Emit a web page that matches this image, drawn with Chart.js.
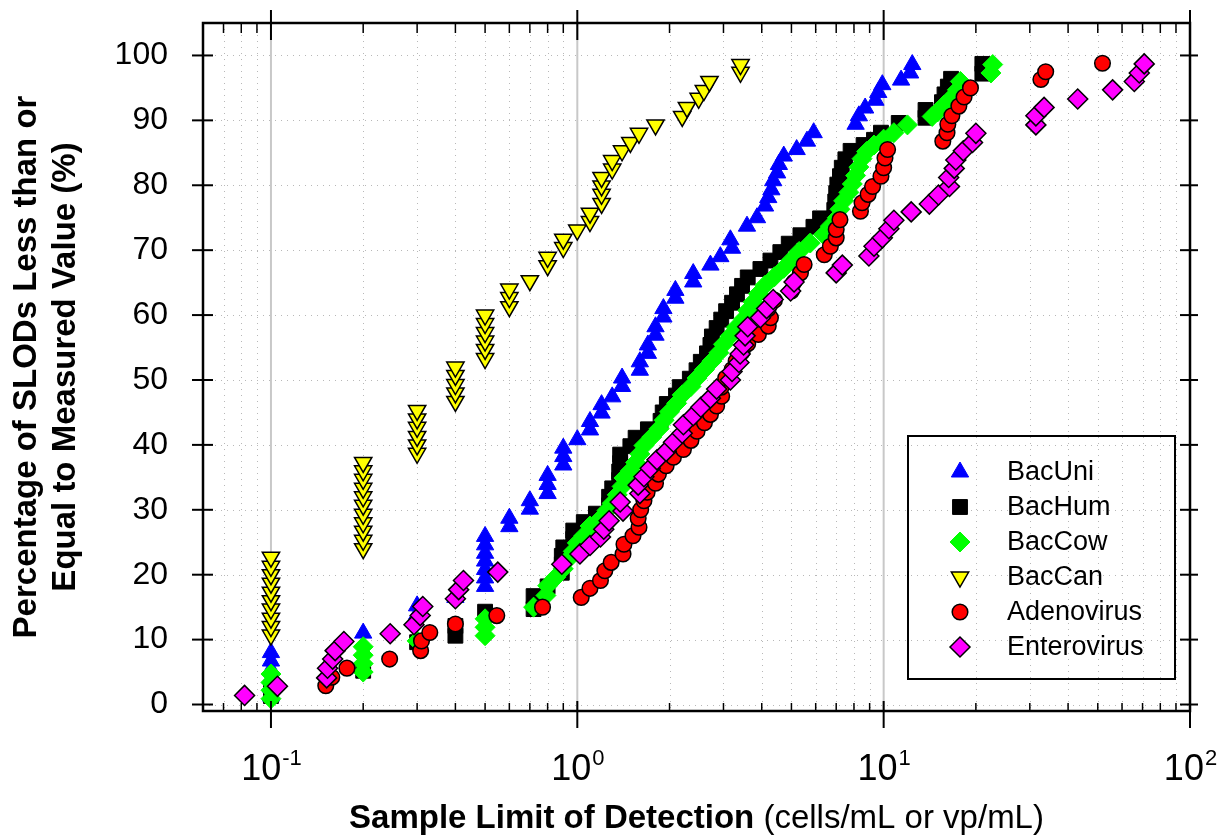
<!DOCTYPE html>
<html>
<head>
<meta charset="utf-8">
<script src="https://cdn.jsdelivr.net/npm/chart.js@4.4.1/dist/chart.umd.min.js"></script>
<style>
  html, body { margin: 0; padding: 0; background: #fff; }
  #wrap { width: 1225px; height: 839px; }
</style>
</head>
<body>
<div id="wrap"><canvas id="slodChart" width="1225" height="839"></canvas></div>
<script>
// values: [SLOD, cumulative %]
const bacUni = [
  [0.1,1.3],[0.1,2.7],[0.1,4.0],[0.1,5.4],[0.1,6.7],[0.1,8.0],
  [0.2,11.0],[0.3,13.9],[0.3,15.2],[0.4,16.5],
  [0.5,18.2],[0.5,19.5],[0.5,20.8],[0.5,22.1],[0.5,23.3],[0.5,24.6],[0.5,25.9],
  [0.6,27.4],[0.6,28.7],[0.7,30.1],[0.7,31.4],
  [0.8,32.5],[0.8,33.9],[0.8,35.3],[0.9,36.9],[0.9,38.2],[0.9,39.5],
  [1.0,40.8],[1.1,42.3],[1.1,43.6],[1.2,44.9],[1.2,46.2],[1.3,47.4],
  [1.4,49.0],[1.4,50.3],[1.6,51.5],[1.6,52.8],[1.7,54.1],[1.7,55.4],
  [1.8,56.9],[1.8,58.2],[1.91,59.7],[1.91,61.0],[2.09,62.6],[2.09,63.8],
  [2.39,65.1],[2.39,66.4],[2.72,67.7],[2.93,69.0],[3.2,70.3],[3.16,71.6],
  [3.58,73.7],[3.86,75.0],[4.1,76.8],[4.2,78.1],[4.3,79.3],[4.36,80.7],
  [4.49,81.9],[4.55,83.2],[4.72,84.5],[5.2,85.5],[5.62,86.8],[5.91,88.1],
  [8.1,89.4],[8.3,90.7],[8.7,91.9],[9.4,93.1],[9.6,94.3],[9.9,95.5],
  [11.4,96.2],[12.2,97.3],[12.4,98.6]
];

const bacHum = [
  [0.1,1.3],[0.1,2.6],[0.2,5.2],[0.3,9.6],[0.4,10.6],[0.4,12.1],[0.5,14.3],
  [0.72,14.7],[0.72,16.7],[0.8,18.2],[0.89,20.3],[0.89,21.6],[0.89,22.9],
  [0.9,24.2],[0.97,25.5],[0.97,26.8],[1.05,28.1],[1.15,29.4],[1.27,30.7],
  [1.27,32.0],[1.3,33.3],[1.37,34.6],[1.37,35.9],[1.38,37.2],[1.38,38.5],
  [1.49,39.8],[1.55,41.1],[1.7,42.4],[1.87,43.7],[1.9,45.0],[1.96,46.3],
  [2.1,47.6],[2.16,48.9],[2.33,50.2],[2.45,51.5],[2.53,52.8],[2.65,54.1],
  [2.72,55.4],[2.75,56.7],[2.85,58.0],[2.95,59.3],[3.06,60.6],[3.2,61.9],
  [3.32,63.2],[3.45,64.5],[3.6,65.8],[3.96,67.1],[4.27,68.4],[4.6,69.7],
  [4.9,71.0],[5.35,72.3],[5.9,73.6],[6.2,74.9],[6.9,76.2],[6.95,77.5],
  [7.0,78.8],[7.06,80.1],[7.2,81.4],[7.3,82.7],[7.5,84.0],[7.8,85.3],
  [8.6,86.2],[9.3,87.0],[9.8,88.1],[11.2,89.6],[13.7,90.4],[13.7,91.6],
  [15.5,92.8],[15.8,94.0],[16.2,95.2],[16.6,96.4],[21.0,97.2],[21.0,98.7]
];

const bacCow = [
  [0.1,0.9],[0.1,2.2],[0.1,3.4],[0.1,4.7],[0.2,5.0],[0.2,6.3],[0.2,7.6],[0.2,8.9],
  [0.3,9.8],[0.5,10.6],[0.5,11.9],[0.5,13.2],[0.72,15.0],[0.79,16.8],[0.8,18.3],
  [0.85,19.6],[0.9,20.9],[0.93,22.3],[0.97,23.6],[1.0,24.9],[1.05,26.0],[1.1,27.5],
  [1.2,28.8],[1.25,29.9],[1.3,31.0],[1.35,32.3],[1.4,33.6],[1.42,34.9],[1.49,36.0],
  [1.55,37.3],[1.6,38.6],[1.65,39.9],[1.75,41.2],[1.85,42.5],[1.92,43.8],[2.0,45.1],
  [2.11,46.4],[2.2,47.7],[2.35,49.0],[2.46,50.3],[2.6,51.6],[2.75,52.9],[2.9,54.2],
  [3.0,55.5],[3.16,56.8],[3.3,58.1],[3.49,59.4],[3.6,60.7],[3.75,62.0],[3.9,63.3],
  [4.1,64.6],[4.4,65.9],[4.72,67.2],[5.0,68.5],[5.3,69.8],[5.76,71.1],[6.37,72.4],
  [6.7,73.7],[7.06,75.0],[7.2,76.3],[7.4,77.6],[7.7,78.9],[7.9,80.2],[8.1,81.5],
  [8.3,82.8],[8.5,84.1],[8.8,85.2],[9.3,86.2],[10.0,87.1],[10.8,88.1],[11.96,89.3],
  [14.4,90.6],[15.0,91.3],[15.7,92.3],[16.6,93.4],[17.4,94.7],[17.8,96.0],
  [22.4,97.3],[22.7,98.6]
];

const bacCan = [
  [0.1,10.7],[0.1,12.0],[0.1,13.3],[0.1,14.7],[0.1,16.0],[0.1,17.3],[0.1,18.7],[0.1,20.0],[0.1,21.3],[0.1,22.7],
  [0.2,24.0],[0.2,25.3],[0.2,26.7],[0.2,28.0],[0.2,29.3],[0.2,30.7],[0.2,32.0],[0.2,33.3],[0.2,34.7],[0.2,36.0],[0.2,37.3],
  [0.3,38.7],[0.3,40.0],[0.3,41.3],[0.3,42.7],[0.3,44.0],[0.3,45.3],
  [0.4,46.7],[0.4,48.0],[0.4,49.3],[0.4,50.7],[0.4,52.0],
  [0.5,53.3],[0.5,54.7],[0.5,56.0],[0.5,57.3],[0.5,58.7],[0.5,60.0],
  [0.6,61.3],[0.6,62.7],[0.6,64.0],[0.7,65.3],
  [0.8,67.6],[0.8,68.9],[0.9,70.4],[0.9,71.7],[1.0,73.1],[1.1,74.4],[1.1,75.7],
  [1.2,77.2],[1.2,78.6],[1.2,79.9],[1.2,81.2],[1.3,82.5],[1.3,83.8],[1.4,85.3],
  [1.49,86.6],[1.59,88.0],[1.8,89.3],[2.2,90.6],[2.28,92.0],[2.49,93.4],
  [2.59,94.6],[2.7,96.0],[3.41,97.4],[3.41,98.6]
];

const adenovirus = [
  [0.151,2.9],[0.158,4.2],[0.177,5.6],[0.244,7.0],[0.308,8.3],[0.31,9.8],[0.33,11.1],
  [0.40,12.4],[0.546,13.7],[0.77,15.0],[1.03,16.5],[1.10,17.9],[1.19,19.1],[1.23,20.6],
  [1.29,21.9],[1.41,23.2],[1.42,24.7],[1.52,26.0],[1.59,27.3],[1.58,28.7],[1.61,30.0],
  [1.65,31.4],[1.69,32.7],[1.80,34.1],[1.84,35.5],[1.95,36.8],[2.06,38.1],[2.22,39.3],
  [2.35,40.7],[2.46,42.1],[2.6,43.4],[2.72,44.7],[2.85,46.0],[2.96,47.5],[2.95,48.9],
  [3.05,50.3],[3.2,51.6],[3.3,52.9],[3.45,54.3],[3.6,55.6],[3.9,57.0],[4.2,58.3],
  [4.27,59.6],[4.2,61.0],[4.4,62.3],[5.0,63.7],[5.1,65.1],[5.35,66.5],[5.5,67.8],
  [6.4,69.3],[6.7,70.6],[7.0,71.9],[7.0,73.2],[7.2,74.7],[8.4,76.0],[8.5,77.3],
  [8.9,78.6],[9.2,79.8],[9.8,81.4],[10.0,82.7],[10.1,84.2],[10.3,85.5],
  [15.6,86.8],[16.1,88.1],[16.2,89.4],[16.7,90.7],[17.6,92.2],[18.3,93.6],[19.2,95.0],
  [32.6,96.3],[33.8,97.5],[51.8,98.8]
];

const enterovirus = [
  [0.082,1.4],[0.105,2.8],[0.152,4.1],[0.153,5.6],[0.159,7.0],[0.162,8.3],[0.173,9.7],
  [0.245,10.9],[0.293,12.3],[0.307,13.7],[0.313,15.1],[0.40,16.3],[0.41,17.7],[0.425,19.1],
  [0.55,20.4],[0.89,21.6],[1.02,23.2],[1.10,24.5],[1.19,25.8],[1.22,27.0],[1.27,28.3],
  [1.41,29.8],[1.38,31.2],[1.6,32.5],[1.58,33.8],[1.65,35.1],[1.73,36.4],[1.82,37.7],
  [1.95,39.0],[2.06,40.4],[2.2,41.8],[2.22,43.1],[2.39,44.5],[2.53,45.8],[2.72,47.2],
  [2.85,48.6],[3.16,50.0],[3.2,51.3],[3.37,52.7],[3.4,54.0],[3.49,55.4],[3.53,56.8],
  [3.6,58.2],[3.96,59.6],[4.15,61.0],[4.36,62.4],[4.97,63.7],[5.1,65.1],[7.0,66.5],
  [7.33,67.7],[8.95,69.1],[9.3,70.6],[9.9,71.9],[10.4,73.3],[10.8,74.6],[12.3,75.9],
  [14.1,77.1],[15.1,78.5],[16.4,79.8],[16.3,81.2],[17.0,82.6],[17.2,83.9],[18.2,85.3],
  [19.5,86.6],[20.0,88.0],[31.4,89.3],[31.4,90.7],[33.4,92.0],[43.0,93.3],[55.9,94.7],
  [65.8,96.0],[68.3,97.3],[70.9,98.7]
];

const seriesNames = ['BacUni', 'BacHum', 'BacCow', 'BacCan', 'Adenovirus', 'Enterovirus'];
const xMajorTicks = [0.1, 1, 10, 100];
const xTickExponents = ['-1', '0', '1', '2'];
const yTicks = [0, 10, 20, 30, 40, 50, 60, 70, 80, 90, 100];
const yTitleLines = ['Percentage of SLODs Less than or', 'Equal to Measured Value (%)'];
const xTitleBold = 'Sample Limit of Detection';
const xTitleRest = ' (cells/mL or vp/mL)';

// minor log positions for dotted grid and small ticks
const xMinorTicks = [];
[-2, -1, 0, 1].forEach(k => {
  for (let m = 2; m <= 9; m++) {
    const v = m * Math.pow(10, k);
    if (v > 0.0605 && v < 99) xMinorTicks.push(v);
  }
});

const toPts = arr => arr.map(p => ({ x: p[0], y: p[1] }));
const FONT = "'Liberation Sans', Arial, Helvetica, sans-serif";

function seg(ctx, x1, y1, x2, y2) {
  ctx.beginPath();
  ctx.moveTo(x1, y1);
  ctx.lineTo(x2, y2);
  ctx.stroke();
}

const framePlugin = {
  id: 'frameAndText',
  beforeDatasetsDraw(chart) {
    const { ctx, chartArea: a, scales } = chart;
    const xs = scales.x, ys = scales.y;
    ctx.save();
    // dotted minor grid
    ctx.lineWidth = 1;
    ctx.strokeStyle = '#b8b8b8';
    ctx.setLineDash([1, 5]);
    xMinorTicks.forEach(v => {
      const px = Math.round(xs.getPixelForValue(v)) + 0.5;
      seg(ctx, px, a.top, px, a.bottom);
    });
    yTicks.forEach(v => {
      const py = Math.round(ys.getPixelForValue(v)) + 0.5;
      seg(ctx, a.left, py, a.right, py);
    });
    // solid decade lines
    ctx.setLineDash([]);
    ctx.strokeStyle = '#c8c8c8';
    ctx.lineWidth = 2;
    xMajorTicks.forEach(v => {
      const px = xs.getPixelForValue(v);
      if (px > a.left + 2 && px < a.right - 2) seg(ctx, px, a.top, px, a.bottom);
    });
    ctx.restore();
  },
  afterDatasetsDraw(chart) {
    const { ctx, chartArea: a, scales } = chart;
    const xs = scales.x, ys = scales.y;
    ctx.save();
    ctx.strokeStyle = '#000';
    ctx.fillStyle = '#000';
    ctx.lineWidth = 2.5;
    ctx.strokeRect(a.left, a.top, a.right - a.left, a.bottom - a.top);

    // tick marks
    ctx.lineWidth = 2;
    yTicks.forEach(v => {
      const py = ys.getPixelForValue(v);
      seg(ctx, a.left - 11, py, a.left + 10, py);
      seg(ctx, a.right - 10, py, a.right + 8, py);
    });
    xMajorTicks.forEach(v => {
      const px = xs.getPixelForValue(v);
      seg(ctx, px, a.bottom - 10, px, a.bottom + 17);
      seg(ctx, px, a.top - 13, px, a.top + 17);
    });
    ctx.lineWidth = 1.5;
    xMinorTicks.forEach(v => {
      const px = xs.getPixelForValue(v);
      seg(ctx, px, a.bottom - 8, px, a.bottom);
      seg(ctx, px, a.top, px, a.top + 10);
    });

    // x tick labels with superscript exponents
    ctx.textBaseline = 'alphabetic';
    ctx.textAlign = 'left';
    xMajorTicks.forEach((v, i) => {
      const px = xs.getPixelForValue(v);
      ctx.font = '36px ' + FONT;
      const wBase = ctx.measureText('10').width;
      ctx.font = '22px ' + FONT;
      const wExp = ctx.measureText(xTickExponents[i]).width;
      const x0 = px - (wBase + wExp) / 2;
      ctx.font = '36px ' + FONT;
      ctx.fillText('10', x0, 780);
      ctx.font = '22px ' + FONT;
      ctx.fillText(xTickExponents[i], x0 + wBase + 1, 765);
    });

    // x axis title, bold part plus normal part
    ctx.font = 'bold 33px ' + FONT;
    const wBold = ctx.measureText(xTitleBold).width;
    ctx.font = '33px ' + FONT;
    const wRest = ctx.measureText(xTitleRest).width;
    const xc = (a.left + a.right) / 2;
    const xt = xc - (wBold + wRest) / 2;
    ctx.font = 'bold 33px ' + FONT;
    ctx.fillText(xTitleBold, xt, 828);
    ctx.font = '33px ' + FONT;
    ctx.fillText(xTitleRest, xt + wBold, 828);

    // y axis title, two rotated lines
    ctx.save();
    ctx.translate(27, (a.top + a.bottom) / 2);
    ctx.rotate(-Math.PI / 2);
    ctx.textAlign = 'center';
    ctx.textBaseline = 'middle';
    ctx.font = 'bold 33px ' + FONT;
    ctx.fillText(yTitleLines[0], 0, 0);
    ctx.fillText(yTitleLines[1], 0, 39);
    ctx.restore();

    // legend box
    ctx.lineWidth = 2;
    ctx.strokeRect(908, 436, 267, 243);
    ctx.textAlign = 'left';
    ctx.textBaseline = 'middle';
    ctx.font = '27px ' + FONT;
    chart.data.datasets.forEach((ds, i) => {
      const ly = 472 + i * 35;
      ctx.fillStyle = ds.backgroundColor;
      ctx.strokeStyle = ds.borderColor;
      ctx.lineWidth = ds.pointBorderWidth;
      Chart.helpers.drawPoint(ctx, {
        pointStyle: ds.pointStyle,
        rotation: ds.pointRotation || 0,
        radius: ds.pointRadius,
        borderWidth: ds.pointBorderWidth
      }, 960, ly);
      ctx.fillStyle = '#000';
      ctx.fillText(ds.label, 1007, ly + 1);
    });
    ctx.restore();
  }
};

function makeSet(i, data, style, bg, border, bw, radius, rotation, order) {
  return {
    label: seriesNames[i],
    data: toPts(data),
    pointStyle: style,
    pointRotation: rotation,
    pointRadius: radius,
    pointHoverRadius: radius,
    backgroundColor: bg,
    borderColor: border,
    pointBorderWidth: bw,
    pointHoverBorderWidth: bw,
    order: order
  };
}

const ctx = document.getElementById('slodChart').getContext('2d');
const slodChart = new Chart(ctx, {
  type: 'scatter',
  data: {
    datasets: [
      makeSet(0, bacUni, 'triangle', '#0000ff', '#0000ff', 1, 10, 0, 6),
      makeSet(1, bacHum, 'rect', '#000000', '#000000', 1, 10.5, 0, 5),
      makeSet(2, bacCow, 'rectRot', '#00ff00', '#00ff00', 1, 10, 0, 4),
      makeSet(3, bacCan, 'triangle', '#ffff00', '#000000', 1.5, 10, 180, 3),
      makeSet(4, adenovirus, 'circle', '#ff0000', '#000000', 1.5, 7.8, 0, 2),
      makeSet(5, enterovirus, 'rectRot', '#ff00ff', '#000000', 1.5, 10, 0, 1)
    ]
  },
  options: {
    responsive: false,
    animation: false,
    devicePixelRatio: 1,
    events: [],
    layout: { padding: { top: 23, right: 35, left: 0, bottom: 0 } },
    plugins: {
      legend: { display: false },
      tooltip: { enabled: false }
    },
    scales: {
      x: {
        type: 'logarithmic',
        min: 0.06,
        max: 100,
        grid: { display: false, drawTicks: false },
        border: { display: false },
        ticks: { display: false },
        afterFit: s => { s.height = 128; s.paddingLeft = 0; s.paddingRight = 0; }
      },
      y: {
        type: 'linear',
        min: -1,
        max: 105,
        grid: { display: false, drawTicks: false },
        border: { display: false },
        afterBuildTicks: s => { s.ticks = yTicks.map(v => ({ value: v })); },
        ticks: {
          color: '#000',
          padding: 35,
          font: { family: FONT, size: 32 },
          callback: v => String(v)
        },
        afterFit: s => { s.width = 203; s.paddingTop = 0; s.paddingBottom = 0; }
      }
    }
  },
  plugins: [framePlugin]
});
</script>
</body>
</html>
